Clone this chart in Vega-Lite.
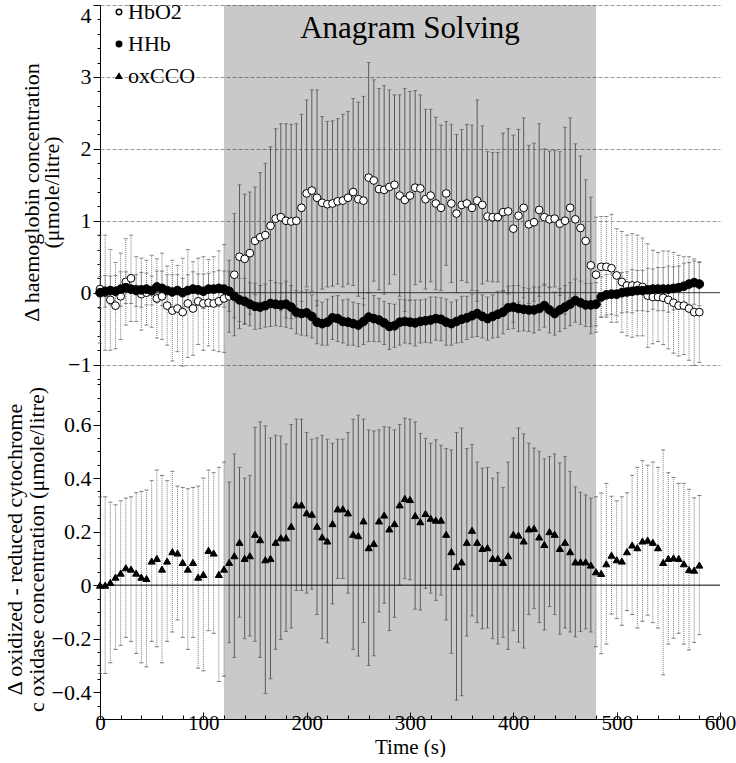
{
 "$schema": "https://vega.github.io/schema/vega-lite/v6.json",
 "padding": {"left": 3, "top": 1, "right": 0, "bottom": 0},
 "background": "white",
 "spacing": 0,
 "bounds": "flush",
 "config": {
  "view": {"stroke": null},
  "font": "Liberation Serif",
  "style": {"guide-label": {"font": "Liberation Serif", "fontSize": 22, "fill": "black"}, "guide-title": {"font": "Liberation Serif", "fontSize": 22, "fontWeight": "normal", "fill": "black"}},
  "axis": {"labelFont": "Liberation Serif", "titleFont": "Liberation Serif", "labelFontSize": 22, "titleFontSize": 22, "titleFontWeight": "normal", "labelColor": "black", "titleColor": "black", "domainColor": "black", "tickColor": "black", "domainWidth": 1, "tickWidth": 1, "labelPadding": 2, "labelOverlap": false},
  "axisLeft": {"labelFont": "Liberation Serif", "titleFont": "Liberation Serif"},
  "axisY": {"labelFont": "Liberation Serif", "titleFont": "Liberation Serif"}
 },
 "resolve": {"scale": {"y": "independent", "x": "independent", "shape": "shared", "fill": "shared"}, "legend": {"shape": "shared", "fill": "shared"}},
 "datasets": {
  "hbo2": [
   {"t":0,"v":0.05,"e":0.75},{"t":5,"v":0.0,"e":0.8},{"t":10,"v":-0.1,"e":0.7},{"t":15,"v":-0.18,"e":0.6},{"t":20,"v":-0.05,"e":0.6},{"t":25,"v":0.15,"e":0.6},{"t":30,"v":0.2,"e":0.6},{"t":35,"v":0.05,"e":0.45},{"t":40,"v":-0.02,"e":0.5},{"t":45,"v":0.0,"e":0.45},{"t":50,"v":0.02,"e":0.5},{"t":55,"v":-0.08,"e":0.55},{"t":60,"v":-0.05,"e":0.6},{"t":65,"v":-0.18,"e":0.55},{"t":70,"v":-0.25,"e":0.7},{"t":75,"v":-0.22,"e":0.6},{"t":80,"v":-0.27,"e":0.75},{"t":85,"v":-0.15,"e":0.75},{"t":90,"v":-0.22,"e":0.65},{"t":95,"v":-0.12,"e":0.6},{"t":100,"v":-0.15,"e":0.65},{"t":105,"v":-0.14,"e":0.6},{"t":110,"v":-0.15,"e":0.65},{"t":115,"v":-0.12,"e":0.7},{"t":120,"v":-0.08,"e":0.75},
   {"t":125,"v":-0.05,"e":0.5},{"t":130,"v":0.25,"e":0.85},{"t":135,"v":0.5,"e":1.0},{"t":140,"v":0.47,"e":0.9},{"t":145,"v":0.55,"e":0.85},{"t":150,"v":0.72,"e":0.75},{"t":155,"v":0.77,"e":0.9},{"t":160,"v":0.8,"e":1.0},{"t":165,"v":0.93,"e":1.1},{"t":170,"v":1.03,"e":1.25},{"t":175,"v":1.05,"e":1.3},{"t":180,"v":1.0,"e":1.35},{"t":185,"v":0.99,"e":1.35},{"t":190,"v":1.0,"e":1.35},{"t":195,"v":1.18,"e":1.3},{"t":200,"v":1.38,"e":1.3},{"t":205,"v":1.42,"e":1.4},{"t":210,"v":1.32,"e":1.5},{"t":215,"v":1.25,"e":1.2},{"t":220,"v":1.23,"e":1.15},{"t":225,"v":1.24,"e":1.15},{"t":230,"v":1.27,"e":1.15},{"t":235,"v":1.28,"e":1.2},{"t":240,"v":1.32,"e":1.2},{"t":245,"v":1.4,"e":1.3},{"t":250,"v":1.3,"e":1.35},{"t":255,"v":1.28,"e":1.45},{"t":260,"v":1.6,"e":1.6},{"t":265,"v":1.56,"e":1.4},{"t":270,"v":1.44,"e":1.4},{"t":275,"v":1.43,"e":1.45},{"t":280,"v":1.47,"e":1.35},{"t":285,"v":1.5,"e":1.25},{"t":290,"v":1.35,"e":1.4},{"t":295,"v":1.29,"e":1.55},{"t":300,"v":1.35,"e":1.45},{"t":305,"v":1.46,"e":1.35},{"t":310,"v":1.45,"e":1.3},{"t":315,"v":1.3,"e":1.25},{"t":320,"v":1.35,"e":1.2},{"t":325,"v":1.24,"e":1.2},{"t":330,"v":1.18,"e":1.15},{"t":335,"v":1.38,"e":1.0},{"t":340,"v":1.24,"e":1.1},{"t":345,"v":1.1,"e":1.1},{"t":350,"v":1.22,"e":1.05},{"t":355,"v":1.24,"e":1.1},{"t":360,"v":1.18,"e":1.15},{"t":365,"v":1.28,"e":1.4},{"t":370,"v":1.22,"e":1.1},{"t":375,"v":1.06,"e":0.9},{"t":380,"v":1.05,"e":0.9},{"t":385,"v":1.05,"e":0.9},{"t":390,"v":1.12,"e":1.1},{"t":395,"v":1.13,"e":1.15},{"t":400,"v":0.89,"e":1.3},{"t":405,"v":1.07,"e":1.2},{"t":410,"v":1.18,"e":1.25},{"t":415,"v":0.95,"e":1.1},{"t":420,"v":0.98,"e":1.1},{"t":425,"v":1.15,"e":1.2},{"t":430,"v":1.05,"e":0.95},{"t":435,"v":1.02,"e":0.95},{"t":440,"v":1.03,"e":0.95},{"t":445,"v":0.96,"e":1.0},{"t":450,"v":1.0,"e":1.3},{"t":455,"v":1.18,"e":1.25},{"t":460,"v":1.02,"e":1.05},{"t":465,"v":0.9,"e":1.0},{"t":470,"v":0.72,"e":0.85},{"t":475,"v":0.38,"e":0.95},{"t":480,"v":0.25,"e":0.8},
   {"t":485,"v":0.36,"e":0.7},{"t":490,"v":0.36,"e":0.7},{"t":495,"v":0.34,"e":0.75},{"t":500,"v":0.24,"e":0.65},{"t":505,"v":0.15,"e":0.7},{"t":510,"v":0.1,"e":0.7},{"t":515,"v":0.1,"e":0.72},{"t":520,"v":0.1,"e":0.7},{"t":525,"v":0.08,"e":0.68},{"t":530,"v":-0.04,"e":0.72},{"t":535,"v":-0.06,"e":0.65},{"t":540,"v":-0.06,"e":0.62},{"t":545,"v":-0.07,"e":0.65},{"t":550,"v":-0.1,"e":0.68},{"t":555,"v":-0.14,"e":0.7},{"t":560,"v":-0.18,"e":0.7},{"t":565,"v":-0.18,"e":0.68},{"t":570,"v":-0.22,"e":0.72},{"t":575,"v":-0.27,"e":0.74},{"t":580,"v":-0.27,"e":0.7}
  ],
  "hhb": [
   {"t":0,"v":0.0,"e":0.22},{"t":5,"v":0.02,"e":0.22},{"t":10,"v":0.03,"e":0.2},{"t":15,"v":0.02,"e":0.22},{"t":20,"v":0.05,"e":0.24},{"t":25,"v":0.07,"e":0.22},{"t":30,"v":0.05,"e":0.2},{"t":35,"v":0.03,"e":0.22},{"t":40,"v":0.04,"e":0.24},{"t":45,"v":0.05,"e":0.22},{"t":50,"v":0.03,"e":0.2},{"t":55,"v":0.08,"e":0.22},{"t":60,"v":0.06,"e":0.24},{"t":65,"v":0.03,"e":0.22},{"t":70,"v":0.01,"e":0.24},{"t":75,"v":0.03,"e":0.22},{"t":80,"v":0.0,"e":0.2},{"t":85,"v":0.03,"e":0.22},{"t":90,"v":0.05,"e":0.24},{"t":95,"v":0.04,"e":0.22},{"t":100,"v":0.02,"e":0.24},{"t":105,"v":0.05,"e":0.22},{"t":110,"v":0.05,"e":0.24},{"t":115,"v":0.06,"e":0.25},{"t":120,"v":0.05,"e":0.25},
   {"t":125,"v":0.02,"e":0.28},{"t":130,"v":-0.05,"e":0.3},{"t":135,"v":-0.1,"e":0.3},{"t":140,"v":-0.12,"e":0.32},{"t":145,"v":-0.16,"e":0.3},{"t":150,"v":-0.19,"e":0.32},{"t":155,"v":-0.2,"e":0.3},{"t":160,"v":-0.18,"e":0.3},{"t":165,"v":-0.15,"e":0.32},{"t":170,"v":-0.16,"e":0.3},{"t":175,"v":-0.17,"e":0.3},{"t":180,"v":-0.16,"e":0.32},{"t":185,"v":-0.2,"e":0.3},{"t":190,"v":-0.27,"e":0.3},{"t":195,"v":-0.29,"e":0.3},{"t":200,"v":-0.28,"e":0.32},{"t":205,"v":-0.33,"e":0.3},{"t":210,"v":-0.41,"e":0.3},{"t":215,"v":-0.43,"e":0.3},{"t":220,"v":-0.41,"e":0.32},{"t":225,"v":-0.35,"e":0.3},{"t":230,"v":-0.36,"e":0.32},{"t":235,"v":-0.4,"e":0.3},{"t":240,"v":-0.41,"e":0.32},{"t":245,"v":-0.43,"e":0.3},{"t":250,"v":-0.45,"e":0.3},{"t":255,"v":-0.4,"e":0.32},{"t":260,"v":-0.34,"e":0.34},{"t":265,"v":-0.36,"e":0.32},{"t":270,"v":-0.38,"e":0.3},{"t":275,"v":-0.42,"e":0.3},{"t":280,"v":-0.47,"e":0.32},{"t":285,"v":-0.46,"e":0.3},{"t":290,"v":-0.41,"e":0.32},{"t":295,"v":-0.4,"e":0.3},{"t":300,"v":-0.41,"e":0.3},{"t":305,"v":-0.42,"e":0.32},{"t":310,"v":-0.4,"e":0.3},{"t":315,"v":-0.39,"e":0.3},{"t":320,"v":-0.38,"e":0.32},{"t":325,"v":-0.36,"e":0.3},{"t":330,"v":-0.37,"e":0.3},{"t":335,"v":-0.41,"e":0.32},{"t":340,"v":-0.43,"e":0.3},{"t":345,"v":-0.4,"e":0.3},{"t":350,"v":-0.37,"e":0.32},{"t":355,"v":-0.35,"e":0.3},{"t":360,"v":-0.32,"e":0.3},{"t":365,"v":-0.29,"e":0.32},{"t":370,"v":-0.33,"e":0.3},{"t":375,"v":-0.36,"e":0.3},{"t":380,"v":-0.33,"e":0.3},{"t":385,"v":-0.3,"e":0.32},{"t":390,"v":-0.27,"e":0.3},{"t":395,"v":-0.21,"e":0.3},{"t":400,"v":-0.2,"e":0.3},{"t":405,"v":-0.22,"e":0.32},{"t":410,"v":-0.23,"e":0.3},{"t":415,"v":-0.24,"e":0.3},{"t":420,"v":-0.24,"e":0.32},{"t":425,"v":-0.22,"e":0.3},{"t":430,"v":-0.18,"e":0.3},{"t":435,"v":-0.24,"e":0.32},{"t":440,"v":-0.29,"e":0.3},{"t":445,"v":-0.24,"e":0.3},{"t":450,"v":-0.2,"e":0.3},{"t":455,"v":-0.16,"e":0.3},{"t":460,"v":-0.11,"e":0.3},{"t":465,"v":-0.14,"e":0.3},{"t":470,"v":-0.17,"e":0.3},{"t":475,"v":-0.17,"e":0.3},{"t":480,"v":-0.16,"e":0.3},
   {"t":485,"v":-0.06,"e":0.28},{"t":490,"v":-0.03,"e":0.28},{"t":495,"v":-0.02,"e":0.28},{"t":500,"v":-0.02,"e":0.3},{"t":505,"v":0.0,"e":0.28},{"t":510,"v":0.01,"e":0.28},{"t":515,"v":0.02,"e":0.3},{"t":520,"v":0.03,"e":0.28},{"t":525,"v":0.03,"e":0.28},{"t":530,"v":0.04,"e":0.3},{"t":535,"v":0.05,"e":0.28},{"t":540,"v":0.05,"e":0.3},{"t":545,"v":0.05,"e":0.3},{"t":550,"v":0.05,"e":0.32},{"t":555,"v":0.06,"e":0.3},{"t":560,"v":0.07,"e":0.3},{"t":565,"v":0.09,"e":0.32},{"t":570,"v":0.12,"e":0.3},{"t":575,"v":0.14,"e":0.3},{"t":580,"v":0.12,"e":0.3}
  ],
  "cco": [
   {"t":0,"v":0.0,"e":0.33},{"t":5,"v":0.0,"e":0.33},{"t":10,"v":0.01,"e":0.3},{"t":15,"v":0.03,"e":0.27},{"t":20,"v":0.045,"e":0.27},{"t":25,"v":0.065,"e":0.26},{"t":30,"v":0.06,"e":0.27},{"t":35,"v":0.045,"e":0.3},{"t":40,"v":0.03,"e":0.32},{"t":45,"v":0.025,"e":0.33},{"t":50,"v":0.09,"e":0.3},{"t":55,"v":0.1,"e":0.33},{"t":60,"v":0.06,"e":0.35},{"t":65,"v":0.09,"e":0.3},{"t":70,"v":0.125,"e":0.3},{"t":75,"v":0.12,"e":0.25},{"t":80,"v":0.085,"e":0.28},{"t":85,"v":0.06,"e":0.3},{"t":90,"v":0.085,"e":0.28},{"t":95,"v":0.03,"e":0.34},{"t":100,"v":0.04,"e":0.36},{"t":105,"v":0.13,"e":0.3},{"t":110,"v":0.12,"e":0.3},{"t":115,"v":0.04,"e":0.4},{"t":120,"v":0.06,"e":0.4},
   {"t":125,"v":0.085,"e":0.3},{"t":130,"v":0.11,"e":0.38},{"t":135,"v":0.16,"e":0.28},{"t":140,"v":0.1,"e":0.3},{"t":145,"v":0.11,"e":0.3},{"t":150,"v":0.19,"e":0.4},{"t":155,"v":0.17,"e":0.44},{"t":160,"v":0.095,"e":0.5},{"t":165,"v":0.1,"e":0.45},{"t":170,"v":0.16,"e":0.4},{"t":175,"v":0.177,"e":0.38},{"t":180,"v":0.177,"e":0.35},{"t":185,"v":0.22,"e":0.38},{"t":190,"v":0.3,"e":0.32},{"t":195,"v":0.3,"e":0.32},{"t":200,"v":0.27,"e":0.3},{"t":205,"v":0.265,"e":0.28},{"t":210,"v":0.22,"e":0.33},{"t":215,"v":0.18,"e":0.38},{"t":220,"v":0.165,"e":0.38},{"t":225,"v":0.23,"e":0.3},{"t":230,"v":0.285,"e":0.26},{"t":235,"v":0.285,"e":0.26},{"t":240,"v":0.27,"e":0.3},{"t":245,"v":0.19,"e":0.43},{"t":250,"v":0.185,"e":0.45},{"t":255,"v":0.24,"e":0.38},{"t":260,"v":0.14,"e":0.44},{"t":265,"v":0.156,"e":0.42},{"t":270,"v":0.24,"e":0.34},{"t":275,"v":0.262,"e":0.33},{"t":280,"v":0.21,"e":0.38},{"t":285,"v":0.23,"e":0.35},{"t":290,"v":0.3,"e":0.3},{"t":295,"v":0.324,"e":0.3},{"t":300,"v":0.32,"e":0.3},{"t":305,"v":0.26,"e":0.35},{"t":310,"v":0.237,"e":0.33},{"t":315,"v":0.268,"e":0.28},{"t":320,"v":0.25,"e":0.28},{"t":325,"v":0.243,"e":0.3},{"t":330,"v":0.243,"e":0.28},{"t":335,"v":0.19,"e":0.32},{"t":340,"v":0.125,"e":0.38},{"t":345,"v":0.07,"e":0.5},{"t":350,"v":0.087,"e":0.5},{"t":355,"v":0.16,"e":0.35},{"t":360,"v":0.205,"e":0.32},{"t":365,"v":0.16,"e":0.3},{"t":370,"v":0.137,"e":0.3},{"t":375,"v":0.14,"e":0.3},{"t":380,"v":0.1,"e":0.3},{"t":385,"v":0.1,"e":0.32},{"t":390,"v":0.085,"e":0.28},{"t":395,"v":0.11,"e":0.35},{"t":400,"v":0.19,"e":0.36},{"t":405,"v":0.187,"e":0.4},{"t":410,"v":0.165,"e":0.4},{"t":415,"v":0.21,"e":0.32},{"t":420,"v":0.212,"e":0.3},{"t":425,"v":0.18,"e":0.32},{"t":430,"v":0.152,"e":0.32},{"t":435,"v":0.2,"e":0.28},{"t":440,"v":0.19,"e":0.3},{"t":445,"v":0.137,"e":0.32},{"t":450,"v":0.16,"e":0.32},{"t":455,"v":0.125,"e":0.3},{"t":460,"v":0.087,"e":0.28},{"t":465,"v":0.087,"e":0.26},{"t":470,"v":0.087,"e":0.25},{"t":475,"v":0.075,"e":0.25},{"t":480,"v":0.05,"e":0.28},
   {"t":485,"v":0.044,"e":0.3},{"t":490,"v":0.08,"e":0.3},{"t":495,"v":0.112,"e":0.22},{"t":500,"v":0.095,"e":0.22},{"t":505,"v":0.09,"e":0.24},{"t":510,"v":0.125,"e":0.22},{"t":515,"v":0.15,"e":0.26},{"t":520,"v":0.14,"e":0.3},{"t":525,"v":0.165,"e":0.3},{"t":530,"v":0.168,"e":0.28},{"t":535,"v":0.16,"e":0.3},{"t":540,"v":0.14,"e":0.3},{"t":545,"v":0.085,"e":0.42},{"t":550,"v":0.1,"e":0.32},{"t":555,"v":0.102,"e":0.3},{"t":560,"v":0.1,"e":0.28},{"t":565,"v":0.08,"e":0.3},{"t":570,"v":0.058,"e":0.3},{"t":575,"v":0.056,"e":0.27},{"t":580,"v":0.075,"e":0.26}
  ],
  "band": [{"start": 120, "end": 480}],
  "zero": [{"y": 0}]
 },
 "vconcat": [
  {
   "width": 620, "height": 374,
   "resolve": {"axis": {"x": "independent", "y": "independent"}},
   "layer": [
    {"data": {"name": "band"}, "mark": {"type": "rect", "fill": "black", "fillOpacity": 0.21},
     "encoding": {"x": {"field": "start", "type": "quantitative", "scale": {"domain": [0, 600], "nice": false}, "axis": null}, "x2": {"field": "end"}}},
    {"data": {"name": "hbo2"}, "transform": [{"filter": "datum.t <= 120 || datum.t >= 480"}],
     "mark": {"type": "errorbar", "color": "#7a7a7a", "rule": {"strokeDash": [1, 1]}, "ticks": {"size": 4, "color": "#555"}},
     "encoding": {"x": {"field": "t", "type": "quantitative", "scale": {"domain": [0, 600], "nice": false}, "axis": null}, "y": {"field": "v", "type": "quantitative", "scale": {"domain": [-1.2, 4], "nice": false, "zero": false}, "axis": null}, "yError": {"field": "e"}}},
    {"data": {"name": "hbo2"}, "transform": [{"filter": "datum.t > 120 && datum.t < 480"}],
     "mark": {"type": "errorbar", "color": "#5a5a5a", "ticks": {"size": 4}},
     "encoding": {"x": {"field": "t", "type": "quantitative", "scale": {"domain": [0, 600], "nice": false}, "axis": null}, "y": {"field": "v", "type": "quantitative", "scale": {"domain": [-1.2, 4], "nice": false, "zero": false}, "axis": null}, "yError": {"field": "e"}}},
    {"data": {"name": "hhb"}, "transform": [{"filter": "datum.t <= 120 || datum.t >= 480"}],
     "mark": {"type": "errorbar", "color": "#7a7a7a", "rule": {"strokeDash": [1, 1]}, "ticks": {"size": 4, "color": "#555"}},
     "encoding": {"x": {"field": "t", "type": "quantitative", "scale": {"domain": [0, 600], "nice": false}, "axis": null}, "y": {"field": "v", "type": "quantitative", "scale": {"domain": [-1.2, 4], "nice": false, "zero": false}, "axis": null}, "yError": {"field": "e"}}},
    {"data": {"name": "hhb"}, "transform": [{"filter": "datum.t > 120 && datum.t < 480"}],
     "mark": {"type": "errorbar", "color": "#5a5a5a", "ticks": {"size": 4}},
     "encoding": {"x": {"field": "t", "type": "quantitative", "scale": {"domain": [0, 600], "nice": false}, "axis": null}, "y": {"field": "v", "type": "quantitative", "scale": {"domain": [-1.2, 4], "nice": false, "zero": false}, "axis": null}, "yError": {"field": "e"}}},
    {"data": {"name": "zero"}, "mark": {"type": "rule", "color": "#333", "strokeWidth": 1},
     "encoding": {"y": {"field": "y", "type": "quantitative", "scale": {"domain": [-1.2, 4], "nice": false, "zero": false}, "axis": null}}},
    {"data": {"name": "hbo2"}, "mark": {"type": "point", "filled": true, "stroke": "black", "strokeWidth": 1, "size": 60, "opacity": 1},
     "encoding": {
      "x": {"field": "t", "type": "quantitative", "scale": {"domain": [0, 600], "nice": false}, "axis": null},
      "y": {"field": "v", "type": "quantitative", "scale": {"domain": [-1.2, 4], "nice": false, "zero": false},
        "axis": {"orient": "left", "title": ["Δ haemoglobin concentration", "(μmole/litre)"], "titleLineHeight": 20, "titlePadding": 4,
          "labelFont": "Liberation Serif", "titleFont": "Liberation Serif", "labelFontSize": 22, "titleFontSize": 22, "titleFontWeight": "normal", "labelColor": "black", "titleColor": "black", "domainColor": "black", "tickColor": "black", "labelPadding": 2, "labelOverlap": false, "labelFlush": true,
          "values": [-1.2,-1,-0.8,-0.6,-0.4,-0.2,0,0.2,0.4,0.6,0.8,1,1.2,1.4,1.6,1.8,2,2.2,2.4,2.6,2.8,3,3.2,3.4,3.6,3.8,4],
          "format": "~g",
          "labelExpr": "abs(datum.value - round(datum.value)) < 0.001 ? datum.label : ''",
          "tickSize": {"condition": {"test": "abs(datum.value - round(datum.value)) < 0.001", "value": 7}, "value": 3},
          "grid": true, "gridColor": "#9a9a9a", "gridDash": [4, 2],
          "gridOpacity": {"condition": {"test": "abs(datum.value - round(datum.value)) < 0.001 && datum.value != 0", "value": 1}, "value": 0}}},
      "shape": {"datum": "HbO2", "type": "nominal", "scale": {"domain": ["HbO2", "HHb", "oxCCO"], "range": ["circle", "circle", "triangle-up"]},
        "legend": {"orient": "none", "legendX": 8, "legendY": -4, "title": null, "labelFont": "Liberation Serif", "labelFontSize": 22, "labelColor": "black", "symbolSize": 30, "rowPadding": 10, "labelOffset": -2,
          "encode": {"symbols": {"stroke": {"value": "black"}, "strokeWidth": {"value": 1}}}}},
      "fill": {"datum": "HbO2", "type": "nominal", "scale": {"domain": ["HbO2", "HHb", "oxCCO"], "range": ["white", "black", "black"]},
        "legend": {"orient": "none", "legendX": 8, "legendY": -4, "title": null, "labelFont": "Liberation Serif", "labelFontSize": 22, "labelColor": "black", "symbolSize": 30, "rowPadding": 10, "labelOffset": -2,
          "encode": {"symbols": {"stroke": {"value": "black"}, "strokeWidth": {"value": 1}}}}}
     }},
    {"data": {"name": "hhb"}, "mark": {"type": "point", "filled": true, "stroke": "black", "strokeWidth": 1, "size": 75, "opacity": 1},
     "encoding": {
      "x": {"field": "t", "type": "quantitative", "scale": {"domain": [0, 600], "nice": false}, "axis": null},
      "y": {"field": "v", "type": "quantitative", "scale": {"domain": [-1.2, 4], "nice": false, "zero": false}, "axis": null},
      "shape": {"datum": "HHb", "type": "nominal"},
      "fill": {"datum": "HHb", "type": "nominal"}
     }},
    {"data": {"values": [{"t": 300, "y": 3.67, "label": "Anagram Solving"}]}, "mark": {"type": "text", "font": "Liberation Serif", "fontSize": 31, "color": "black", "baseline": "middle", "align": "center"},
     "encoding": {"x": {"field": "t", "type": "quantitative", "scale": {"domain": [0, 600], "nice": false}, "axis": null}, "y": {"field": "y", "type": "quantitative", "scale": {"domain": [-1.2, 4], "nice": false, "zero": false}, "axis": null}, "text": {"field": "label"}}}
   ]
  },
  {
   "width": 620, "height": 340,
   "resolve": {"axis": {"x": "independent", "y": "independent"}},
   "layer": [
    {"data": {"name": "band"}, "mark": {"type": "rect", "fill": "black", "fillOpacity": 0.21},
     "encoding": {"x": {"field": "start", "type": "quantitative", "scale": {"domain": [0, 600], "nice": false}, "axis": null}, "x2": {"field": "end"}}},
    {"data": {"name": "cco"}, "transform": [{"filter": "datum.t <= 120 || datum.t >= 480"}],
     "mark": {"type": "errorbar", "color": "#7a7a7a", "rule": {"strokeDash": [1, 1]}, "ticks": {"size": 4, "color": "#444"}},
     "encoding": {"x": {"field": "t", "type": "quantitative", "scale": {"domain": [0, 600], "nice": false}, "axis": null}, "y": {"field": "v", "type": "quantitative", "scale": {"domain": [-0.5, 0.77], "nice": false, "zero": false}, "axis": null}, "yError": {"field": "e"}}},
    {"data": {"name": "cco"}, "transform": [{"filter": "datum.t > 120 && datum.t < 480"}],
     "mark": {"type": "errorbar", "color": "#5a5a5a", "ticks": {"size": 4}},
     "encoding": {"x": {"field": "t", "type": "quantitative", "scale": {"domain": [0, 600], "nice": false}, "axis": null}, "y": {"field": "v", "type": "quantitative", "scale": {"domain": [-0.5, 0.77], "nice": false, "zero": false}, "axis": null}, "yError": {"field": "e"}}},
    {"data": {"name": "zero"}, "mark": {"type": "rule", "color": "black", "strokeWidth": 1},
     "encoding": {"y": {"field": "y", "type": "quantitative", "scale": {"domain": [-0.5, 0.77], "nice": false, "zero": false}, "axis": null}}},
    {"data": {"name": "cco"}, "mark": {"type": "point", "filled": true, "stroke": "black", "strokeWidth": 1, "size": 50, "opacity": 1},
     "encoding": {
      "x": {"field": "t", "type": "quantitative", "scale": {"domain": [0, 600], "nice": false},
        "axis": {"orient": "bottom", "title": "Time (s)", "titlePadding": 0, "grid": false,
          "labelFont": "Liberation Serif", "titleFont": "Liberation Serif", "labelFontSize": 21, "titleFontSize": 21, "titleFontWeight": "normal", "labelColor": "black", "titleColor": "black", "domainColor": "black", "tickColor": "black", "labelOverlap": false,
          "values": [0,20,40,60,80,100,120,140,160,180,200,220,240,260,280,300,320,340,360,380,400,420,440,460,480,500,520,540,560,580,600],
          "labelExpr": "datum.value % 100 === 0 ? datum.label : ''",
          "tickSize": {"condition": {"test": "datum.value % 100 === 0", "value": -7}, "value": -4}, "labelPadding": 0, "labelFlush": false}},
      "y": {"field": "v", "type": "quantitative", "scale": {"domain": [-0.5, 0.77], "nice": false, "zero": false},
        "axis": {"orient": "left", "title": ["Δ oxidized - reduced cytochrome", "c oxidase concentration (μmole/litre)"], "titleLineHeight": 22, "titlePadding": 3, "grid": false,
          "labelFont": "Liberation Serif", "titleFont": "Liberation Serif", "labelFontSize": 22, "titleFontSize": 22, "titleFontWeight": "normal", "labelColor": "black", "titleColor": "black", "domainColor": "black", "tickColor": "black", "labelPadding": 2, "labelOverlap": false,
          "values": [-0.5,-0.45,-0.4,-0.35,-0.3,-0.25,-0.2,-0.15,-0.1,-0.05,0,0.05,0.1,0.15,0.2,0.25,0.3,0.35,0.4,0.45,0.5,0.55,0.6,0.65,0.7,0.75],
          "format": "~g",
          "labelExpr": "abs(datum.value*5 - round(datum.value*5)) < 0.001 ? datum.label : ''",
          "tickSize": {"condition": {"test": "abs(datum.value*5 - round(datum.value*5)) < 0.001", "value": 7}, "value": 3}}},
      "shape": {"datum": "oxCCO", "type": "nominal"},
      "fill": {"datum": "oxCCO", "type": "nominal"}
     }}
   ]
  }
 ]
}
